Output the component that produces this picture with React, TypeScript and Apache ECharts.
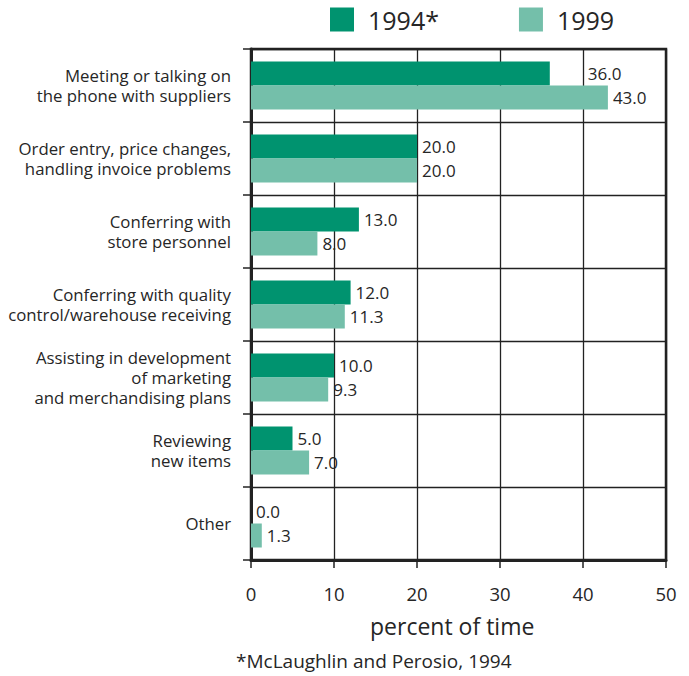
import React, { useEffect, useRef } from "react";
import * as echarts from "echarts";

const categories: string[] = [
  "Meeting or talking on\nthe phone with suppliers",
  "Order entry, price changes,\nhandling invoice problems",
  "Conferring with\nstore personnel",
  "Conferring with quality\ncontrol/warehouse receiving",
  "Assisting in development\nof marketing\nand merchandising plans",
  "Reviewing\nnew items",
  "Other",
];
const values1994: number[] = [36.0, 20.0, 13.0, 12.0, 10.0, 5.0, 0.0];
const values1999: number[] = [43.0, 20.0, 8.0, 11.3, 9.3, 7.0, 1.3];
const seriesNames: string[] = ["1994*", "1999"];
const xTicks: number[] = [0, 10, 20, 30, 40, 50];
const xAxisTitle = "percent of time";
const footnote = "*McLaughlin and Perosio, 1994";

const FONT = "'Open Sans', 'DejaVu Sans', sans-serif";
const TEXT = "#262626";
const DARK = "#00936F";
const LIGHT = "#74BFAA";

export default function App() {
  const ref = useRef<HTMLDivElement>(null);
  useEffect(() => {
    document.body.style.margin = "0";
    if (!ref.current) return;
    const chart = echarts.init(ref.current, undefined, { renderer: "svg" });
    const labelCommon = {
      show: true,
      position: "right",
      distance: 5,
      fontSize: 17,
      fontFamily: FONT,
      color: TEXT,
      formatter: (p: any) => Number(p.value).toFixed(1),
    };
    chart.setOption({
      animation: false,
      backgroundColor: "#ffffff",
      textStyle: { fontFamily: FONT },
      legend: {
        left: 330,
        top: 7,
        itemWidth: 24,
        itemHeight: 24,
        itemGap: 80,
        icon: "rect",
        padding: 0,
        data: seriesNames,
        textStyle: { fontSize: 25, color: TEXT, fontFamily: FONT, padding: [0, 0, 0, 9] },
      },
      grid: {
        left: 251,
        right: 23,
        top: 49,
        bottom: 116,
        show: true,
        borderColor: "#222",
        borderWidth: 2.5,
        backgroundColor: "transparent",
      },
      xAxis: {
        type: "value",
        min: xTicks[0],
        max: xTicks[xTicks.length - 1],
        interval: 10,
        axisLine: { show: true, lineStyle: { color: "#222", width: 3 } },
        axisTick: { show: true, length: 8, lineStyle: { color: "#222", width: 1.5 } },
        splitLine: { show: true, lineStyle: { color: "#222", width: 1.3 } },
        axisLabel: { fontSize: 18.5, color: TEXT, fontFamily: FONT, margin: 24 },
      },
      yAxis: {
        type: "category",
        inverse: true,
        data: categories,
        axisLine: { show: true, lineStyle: { color: "#222", width: 3 } },
        axisTick: { show: true, length: 8, lineStyle: { color: "#222", width: 1.5 } },
        splitLine: { show: true, lineStyle: { color: "#222", width: 1.3 } },
        axisLabel: {
          fontSize: 16.8,
          lineHeight: 20,
          color: TEXT,
          fontFamily: FONT,
          margin: 20,
          align: "right",
        },
      },
      series: [
        {
          name: seriesNames[0],
          type: "bar",
          barGap: "0%",
          barCategoryGap: "34%",
          itemStyle: { color: DARK },
          label: labelCommon,
          data: values1994.map((v, i) =>
            i === 0 ? { value: v, label: { offset: [33, 0] } } : v
          ),
        },
        {
          name: seriesNames[1],
          type: "bar",
          barGap: "0%",
          barCategoryGap: "34%",
          itemStyle: { color: LIGHT },
          label: labelCommon,
          data: values1999,
        },
      ],
      graphic: [
        {
          type: "text",
          left: 370,
          top: 614,
          style: { text: xAxisTitle, fontSize: 23, fill: TEXT, fontFamily: FONT },
        },
        {
          type: "text",
          left: 236,
          top: 651,
          style: { text: footnote, fontSize: 19, fill: TEXT, fontFamily: FONT },
        },
      ],
    });
    return () => chart.dispose();
  }, []);
  return <div ref={ref} style={{ width: 689, height: 676 }} />;
}
